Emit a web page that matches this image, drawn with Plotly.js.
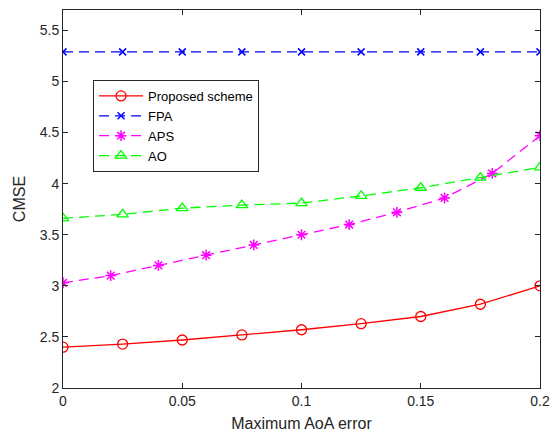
<!DOCTYPE html>
<html>
<head>
<meta charset="utf-8">
<script src="https://cdn.plot.ly/plotly-3.0.1.min.js"></script>
<style>html,body{margin:0;padding:0;background:#fff;}#chart{width:554px;height:434px;}</style>
</head>
<body>
<div id="chart"></div>
<script>
const xCoarse = [0, 0.025, 0.05, 0.075, 0.1, 0.125, 0.15, 0.175, 0.2];
const xFine = [0, 0.02, 0.04, 0.06, 0.08, 0.1, 0.12, 0.14, 0.16, 0.18, 0.2];
const proposed = [2.40, 2.43, 2.47, 2.52, 2.57, 2.63, 2.70, 2.82, 3.00];
const fpa = [5.29, 5.29, 5.29, 5.29, 5.29, 5.29, 5.29, 5.29, 5.29];
const aps = [3.03, 3.10, 3.20, 3.30, 3.40, 3.50, 3.60, 3.72, 3.86, 4.10, 4.47];
const ao = [3.66, 3.70, 3.76, 3.79, 3.81, 3.88, 3.96, 4.06, 4.16];
const xTicks = [0, 0.05, 0.1, 0.15, 0.2];
const xTickText = ["0", "0.05", "0.1", "0.15", "0.2"];
const yTicks = [2, 2.5, 3, 3.5, 4, 4.5, 5, 5.5];
const yTickText = ["2", "2.5", "3", "3.5", "4", "4.5", "5", "5.5"];

const FONT = "Liberation Sans, Arial, sans-serif";
const DASH = "10px,6px";

const traces = [
  {x: xCoarse, y: proposed, name: "Proposed scheme", mode: "lines+markers",
   line: {color: "#ff0000", width: 1.3, dash: "solid"},
   marker: {symbol: "circle-open", size: 10, color: "#ff0000", line: {width: 1.3, color: "#ff0000"}}},
  {x: xCoarse, y: fpa, name: "FPA", mode: "lines+markers",
   line: {color: "#0000ff", width: 1.3, dash: DASH},
   marker: {symbol: "x-thin-open", size: 7, color: "#0000ff", line: {width: 1.5, color: "#0000ff"}}},
  {x: xFine, y: aps, name: "APS", mode: "lines+markers",
   line: {color: "#ff00ff", width: 1.3, dash: DASH},
   marker: {symbol: "asterisk-open", size: 9, color: "#ff00ff", line: {width: 1.5, color: "#ff00ff"}}},
  {x: xCoarse, y: ao, name: "AO", mode: "lines+markers",
   line: {color: "#00ff00", width: 1.3, dash: DASH},
   marker: {symbol: "triangle-up-open", size: 10, color: "#00ff00", line: {width: 1.3, color: "#00ff00"}}}
];

const axisCommon = {
  showline: true, mirror: "ticks", linecolor: "#262626", linewidth: 1,
  ticks: "inside", ticklen: 5, tickcolor: "#262626", tickwidth: 1,
  showgrid: false, zeroline: false,
  tickfont: {family: FONT, size: 14, color: "#262626"}
};

const layout = {
  width: 554, height: 434,
  margin: {l: 63, r: 14, t: 10, b: 46},
  paper_bgcolor: "#ffffff", plot_bgcolor: "#ffffff",
  font: {family: FONT, color: "#262626"},
  showlegend: true,
  legend: {x: 0.063, y: 0.815, xanchor: "left", yanchor: "top",
    bgcolor: "#ffffff", bordercolor: "#262626", borderwidth: 1,
    itemwidth: 44,
    font: {family: FONT, size: 13, color: "#000000"},
    tracegroupgap: 0},
  xaxis: Object.assign({}, axisCommon, {range: [0, 0.2], tickvals: xTicks, ticktext: xTickText,
    title: {text: "Maximum AoA error", font: {family: FONT, size: 16, color: "#262626"}, standoff: 10}}),
  yaxis: Object.assign({}, axisCommon, {range: [2, 5.7], tickvals: yTicks, ticktext: yTickText,
    title: {text: "CMSE", font: {family: FONT, size: 16, color: "#262626"}, standoff: 10}})
};

Plotly.newPlot("chart", traces, layout, {displayModeBar: false, staticPlot: true});
</script>
</body>
</html>
